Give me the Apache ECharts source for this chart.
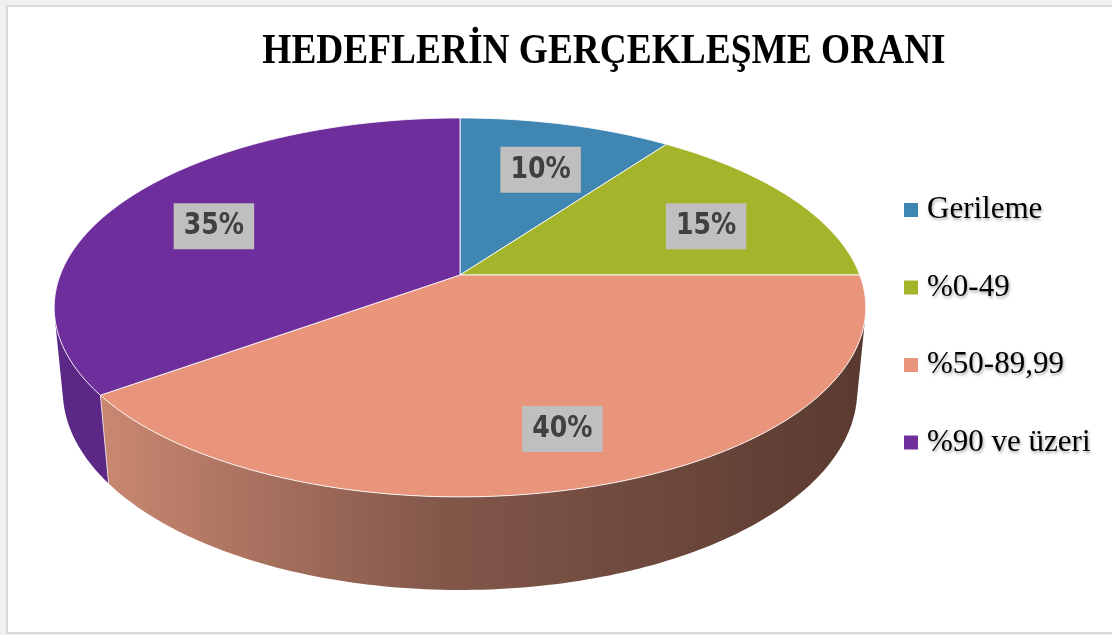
<!DOCTYPE html>
<html><head><meta charset="utf-8">
<script src="https://cdn.jsdelivr.net/npm/echarts@6/dist/echarts.min.js"></script>
<style>html,body{margin:0;padding:0;background:#f0f0f0}#c{width:1112px;height:635px}</style>
</head><body><div id="c"></div>
<script>
const titleText = 'HEDEFLERİN GERÇEKLEŞME ORANI';
const categories = ['Gerileme', '%0-49', '%50-89,99', '%90 ve üzeri'];
const values = [10, 15, 40, 35];
const topColors = ['#3f86b3', '#a4b52c', '#e8957b', '#6e2e9c'];

// 3D projection of the pie disk (perspective view)
const CX = 460, CY = 275, CAM_L = 5.19, FOCAL = 2075, SIN_T = 0.46, COS_T = 0.888, THICK = 0.236;
const LABEL_R = 0.73, LABEL_DY = 9;
function proj(px, py, pz) {
  const depth = CAM_L - py * SIN_T - pz * COS_T;
  const vu = py * COS_T - pz * SIN_T;
  return [CX + px * FOCAL / depth, CY - vu * FOCAL / depth];
}
const sideFills = [
  '#2c5f80', '#748020',
  new echarts.graphic.LinearGradient(100, 0, 860, 0, [
    {offset: 0, color: '#ca8871'}, {offset: 0.45, color: '#82574a'}, {offset: 1, color: '#5a3a30'}
  ], true),
  '#5c2886'
];
const total = values.reduce((s, v) => s + v, 0);

function renderSlice(k) {
  return function () {
    let acc = 0;
    for (let i = 0; i < k; i++) acc += values[i];
    const a0 = acc / total * 2 * Math.PI, a1 = (acc + values[k]) / total * 2 * Math.PI;
    const children = [];
    const n = Math.max(2, Math.ceil((a1 - a0) / (Math.PI / 180)));
    const topPts = [proj(0, 0, 0)];
    for (let i = 0; i <= n; i++) {
      const t = a0 + (a1 - a0) * i / n;
      topPts.push(proj(Math.sin(t), 0, -Math.cos(t)));
    }
    children.push({type: 'polygon', z2: 10, shape: {points: topPts},
      style: {fill: topColors[k], stroke: 'rgba(255,255,255,0.85)', lineWidth: 1}});
    const t0 = Math.acos(-1 / (CAM_L * COS_T)), t1 = 2 * Math.PI - t0;
    const w0 = Math.max(a0, t0), w1 = Math.min(a1, t1);
    if (w1 > w0) {
      const m = Math.max(2, Math.ceil((w1 - w0) / (Math.PI / 180)));
      const pts = [];
      for (let i = 0; i <= m; i++) { const t = w0 + (w1 - w0) * i / m; pts.push(proj(Math.sin(t), 0, -Math.cos(t))); }
      for (let i = m; i >= 0; i--) { const t = w0 + (w1 - w0) * i / m; pts.push(proj(Math.sin(t), -THICK, -Math.cos(t))); }
      children.push({type: 'polygon', z2: 1, shape: {points: pts}, style: {fill: sideFills[k]}});
    }
    if (a0 > t0 && a0 < t1) {
      const p1 = proj(Math.sin(a0), 0, -Math.cos(a0)), p2 = proj(Math.sin(a0), -THICK, -Math.cos(a0));
      children.push({type: 'line', z2: 5, shape: {x1: p1[0], y1: p1[1], x2: p2[0], y2: p2[1]},
        style: {stroke: 'rgba(255,255,255,0.7)', lineWidth: 1}});
    }
    const mid = (a0 + a1) / 2;
    const lp = proj(LABEL_R * Math.sin(mid), 0, -LABEL_R * Math.cos(mid));
    children.push({type: 'text', z2: 20, x: lp[0], y: lp[1] + LABEL_DY, scaleX: 0.84,
      style: {text: Math.round(values[k] / total * 100) + '%', x: 0, y: 0, align: 'center', verticalAlign: 'middle',
        fill: '#404040', fontFamily: 'DejaVu Sans', fontWeight: 'bold', fontSize: 30, lineHeight: 30,
        backgroundColor: '#bfbfbf', padding: [8, 12]}});
    return {type: 'group', children};
  };
}

const chart = echarts.init(document.getElementById('c'));
chart.setOption({
  animation: false,
  backgroundColor: '#f0f0f0',
  graphic: [
    {type: 'rect', z: -10, silent: true, shape: {x: 7, y: 6, width: 1112, height: 627},
      style: {fill: '#ffffff', stroke: '#d9d9d9', lineWidth: 2}},
    {type: 'text', x: 604, y: 52, scaleX: 0.89, silent: true,
      style: {text: titleText, x: 0, y: 0, align: 'center', verticalAlign: 'middle',
        fill: '#000', fontFamily: 'Liberation Serif', fontWeight: 'bold', fontSize: 42}}
  ],
  legend: {
    orient: 'vertical', left: 904, top: 194.5, padding: 0, itemWidth: 14, itemHeight: 14, itemGap: 46.5, icon: 'rect',
    data: categories,
    textStyle: {fontFamily: 'Liberation Serif', fontSize: 31, lineHeight: 31, color: '#000', padding: [0, 0, 0, 4],
      textShadowColor: 'rgba(0,0,0,0.35)', textShadowBlur: 3, textShadowOffsetX: 1, textShadowOffsetY: 2}
  },
  series: categories.map((name, k) => ({
    type: 'custom', name: name, coordinateSystem: 'none',
    itemStyle: {color: topColors[k]},
    renderItem: renderSlice(k),
    data: [values[k]]
  }))
});
</script></body></html>
